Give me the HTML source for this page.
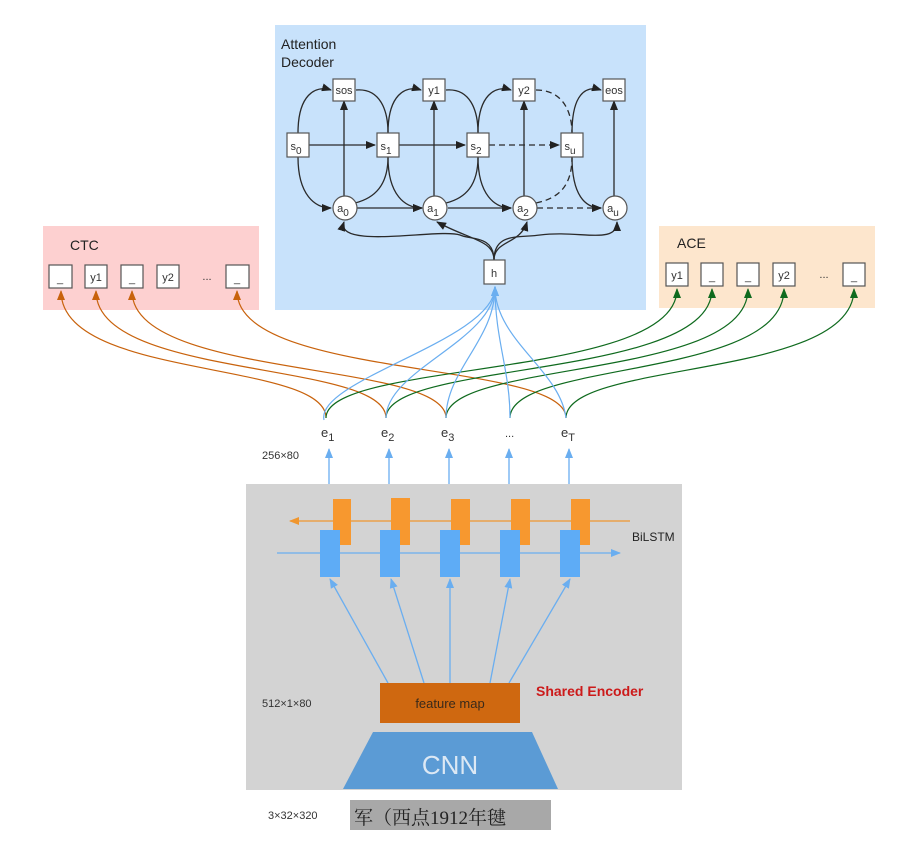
<!DOCTYPE html>
<html><head><meta charset="utf-8"><style>
body{margin:0;background:#fff;}
svg{display:block;font-family:"Liberation Sans",Arial,sans-serif;}
</style></head><body>
<svg width="899" height="860" viewBox="0 0 899 860" xmlns="http://www.w3.org/2000/svg">
<defs>
<marker id="ak" markerWidth="10" markerHeight="8" refX="9" refY="4" orient="auto" markerUnits="userSpaceOnUse"><path d="M0,0 L10,4 L0,8 z" fill="#222"/></marker>
<marker id="ao" markerWidth="10" markerHeight="10" refX="9" refY="5" orient="auto" markerUnits="userSpaceOnUse"><path d="M0,1 L10,5 L0,9 z" fill="#c8620c"/></marker>
<marker id="ag" markerWidth="10" markerHeight="10" refX="9" refY="5" orient="auto" markerUnits="userSpaceOnUse"><path d="M0,1 L10,5 L0,9 z" fill="#0f6a1e"/></marker>
<marker id="ab" markerWidth="10" markerHeight="10" refX="9" refY="5" orient="auto" markerUnits="userSpaceOnUse"><path d="M0,1 L10,5 L0,9 z" fill="#6aaef0"/></marker>
<marker id="ar" markerWidth="10" markerHeight="10" refX="9" refY="5" orient="auto" markerUnits="userSpaceOnUse"><path d="M0,1 L10,5 L0,9 z" fill="#f0962e"/></marker>
</defs>

<!-- panels -->
<rect x="275" y="25" width="371" height="285" fill="#c8e2fb"/>
<rect x="43" y="226" width="216" height="84" fill="#fdd0d0"/>
<rect x="659" y="226" width="216" height="82" fill="#fde6cd"/>
<rect x="246" y="484" width="436" height="306" fill="#d3d3d3"/>

<text x="281" y="49" font-size="14" fill="#222">Attention</text>
<text x="281" y="67" font-size="14" fill="#222">Decoder</text>
<text x="70" y="250" font-size="14" fill="#222">CTC</text>
<text x="677" y="248" font-size="14" fill="#222">ACE</text>

<!-- decoder connectors -->
<g stroke="#2a2a2a" stroke-width="1.3" fill="none">
<path d="M298,133 C298,95 315,85 331,90" marker-end="url(#ak)"/>
<path d="M388,133 C388,95 405,85 421,90" marker-end="url(#ak)"/>
<path d="M478,133 C478,95 495,85 511,90" marker-end="url(#ak)"/>
<path d="M572,133 C572,95 585,85 601,90" marker-end="url(#ak)"/>
<path d="M356,90 C380,88 388,110 388,133"/>
<path d="M446,90 C470,88 478,110 478,133"/>
<path d="M344,196 V101" marker-end="url(#ak)"/>
<path d="M434,196 V101" marker-end="url(#ak)"/>
<path d="M524,196 V101" marker-end="url(#ak)"/>
<path d="M614,196 V101" marker-end="url(#ak)"/>
<path d="M309,145 H375" marker-end="url(#ak)"/>
<path d="M399,145 H465" marker-end="url(#ak)"/>
<path d="M298,157 C298,195 315,208 331,208" marker-end="url(#ak)"/>
<path d="M388,157 C388,195 405,208 422,208" marker-end="url(#ak)"/>
<path d="M478,157 C478,195 495,208 511,208" marker-end="url(#ak)"/>
<path d="M572,157 C572,195 585,208 601,208" marker-end="url(#ak)"/>
<path d="M355,203 C375,198 388,185 388,157"/>
<path d="M446,203 C466,198 478,185 478,157"/>
<path d="M357,208 H422" marker-end="url(#ak)"/>
<path d="M448,208 H511" marker-end="url(#ak)"/>
<path d="M494,260 C494,235 470,240 460,235 C440,228 335,250 344,222" marker-end="url(#ak)"/>
<path d="M494,260 C494,240 470,240 437,222" marker-end="url(#ak)"/>
<path d="M494,260 C494,240 520,245 527,222" marker-end="url(#ak)"/>
<path d="M494,260 C494,232 520,238 540,235 C580,230 617,245 617,222" marker-end="url(#ak)"/>
</g>
<g stroke="#2a2a2a" stroke-width="1.3" fill="none" stroke-dasharray="6,4">
<path d="M489,145 H559" marker-end="url(#ak)"/>
<path d="M537,208 H601" marker-end="url(#ak)"/>
<path d="M536,90 C565,90 572,115 572,133"/>
<path d="M536,203 C560,198 572,185 572,157"/>
</g>

<!-- decoder nodes -->
<g fill="#fff" stroke="#555" stroke-width="1.2">
<rect x="333" y="79" width="22" height="22"/><rect x="423" y="79" width="22" height="22"/>
<rect x="513" y="79" width="22" height="22"/><rect x="603" y="79" width="22" height="22"/>
<rect x="287" y="133" width="22" height="24"/><rect x="377" y="133" width="22" height="24"/>
<rect x="467" y="133" width="22" height="24"/><rect x="561" y="133" width="22" height="24"/>
<circle cx="345" cy="208" r="12"/><circle cx="435" cy="208" r="12"/>
<circle cx="525" cy="208" r="12"/><circle cx="615" cy="208" r="12"/>
<rect x="484" y="260" width="21" height="24"/>
</g>
<g font-size="11" fill="#333" text-anchor="middle">
<text x="344" y="94">sos</text><text x="434" y="94">y1</text><text x="524" y="94">y2</text><text x="614" y="94">eos</text>
<text x="296" y="150">s<tspan font-size="10" dy="4">0</tspan></text>
<text x="386" y="150">s<tspan font-size="10" dy="4">1</tspan></text>
<text x="476" y="150">s<tspan font-size="10" dy="4">2</tspan></text>
<text x="570" y="150">s<tspan font-size="10" dy="4">u</tspan></text>
<text x="343" y="212">a<tspan font-size="10" dy="4">0</tspan></text>
<text x="433" y="212">a<tspan font-size="10" dy="4">1</tspan></text>
<text x="523" y="212">a<tspan font-size="10" dy="4">2</tspan></text>
<text x="613" y="212">a<tspan font-size="10" dy="4">u</tspan></text>
<text x="494" y="277">h</text>
</g>

<!-- CTC / ACE boxes -->
<g fill="#fff" stroke="#555" stroke-width="1.2">
<rect x="49" y="265" width="23" height="23"/><rect x="85" y="265" width="22" height="23"/>
<rect x="121" y="265" width="22" height="23"/><rect x="157" y="265" width="22" height="23"/>
<rect x="226" y="265" width="23" height="23"/>
<rect x="666" y="263" width="22" height="23"/><rect x="701" y="263" width="22" height="23"/>
<rect x="737" y="263" width="22" height="23"/><rect x="773" y="263" width="22" height="23"/>
<rect x="843" y="263" width="22" height="23"/>
</g>
<g font-size="11" fill="#333" text-anchor="middle">
<text x="60" y="282">_</text><text x="96" y="281">y1</text><text x="132" y="282">_</text><text x="168" y="281">y2</text><text x="207" y="280">...</text><text x="237" y="282">_</text>
<text x="677" y="279">y1</text><text x="712" y="280">_</text><text x="748" y="280">_</text><text x="784" y="279">y2</text><text x="824" y="278">...</text><text x="854" y="280">_</text>
</g>

<!-- connectors to heads -->
<g fill="none" stroke-width="1.2">
<g stroke="#c8620c">
<path d="M326,418 C326,360 61,380 61,291" marker-end="url(#ao)"/>
<path d="M386,418 C386,360 96,380 96,291" marker-end="url(#ao)"/>
<path d="M446,418 C446,360 132,380 132,291" marker-end="url(#ao)"/>
<path d="M566,418 C566,360 237,380 237,291" marker-end="url(#ao)"/>
</g>
<g stroke="#0f6a1e">
<path d="M326,418 C326,360 677,380 677,289" marker-end="url(#ag)"/>
<path d="M386,418 C386,360 712,380 712,289" marker-end="url(#ag)"/>
<path d="M446,418 C446,360 748,380 748,289" marker-end="url(#ag)"/>
<path d="M510,418 C510,360 784,380 784,289" marker-end="url(#ag)"/>
<path d="M566,418 C566,360 854,380 854,289" marker-end="url(#ag)"/>
</g>
<g stroke="#6aaef0">
<path d="M324,420 C315,380 495,340 495,287" marker-end="url(#ab)"/>
<path d="M386,418 C386,370 495,340 495,287" marker-end="url(#ab)"/>
<path d="M446,418 C446,370 495,340 495,287" marker-end="url(#ab)"/>
<path d="M510,418 C510,370 495,340 495,287" marker-end="url(#ab)"/>
<path d="M566,418 C560,370 495,340 495,287" marker-end="url(#ab)"/>
</g>
</g>

<!-- e labels -->
<g font-size="13" fill="#333">
<text x="321" y="437">e<tspan font-size="11" dy="4">1</tspan></text>
<text x="381" y="437">e<tspan font-size="11" dy="4">2</tspan></text>
<text x="441" y="437">e<tspan font-size="11" dy="4">3</tspan></text>
<text x="505" y="437" font-size="11">...</text>
<text x="561" y="437">e<tspan font-size="11" dy="4">T</tspan></text>
</g>
<text x="262" y="459" font-size="11" fill="#333">256×80</text>
<g stroke="#6aaef0" stroke-width="1.3" fill="none">
<path d="M329,484 V449" marker-end="url(#ab)"/><path d="M389,484 V449" marker-end="url(#ab)"/>
<path d="M449,484 V449" marker-end="url(#ab)"/><path d="M509,484 V449" marker-end="url(#ab)"/>
<path d="M569,484 V449" marker-end="url(#ab)"/>
</g>

<!-- BiLSTM -->
<g stroke="#f0962e" stroke-width="1.3" fill="none">
<path d="M630,521 H290" marker-end="url(#ar)"/>
</g>
<g fill="#f7982f">
<rect x="333" y="499" width="18" height="46"/><rect x="391" y="498" width="19" height="47"/>
<rect x="451" y="499" width="19" height="46"/><rect x="511" y="499" width="19" height="46"/>
<rect x="571" y="499" width="19" height="46"/>
</g>
<g stroke="#6aaef0" stroke-width="1.3" fill="none">
<path d="M277,553 H620" marker-end="url(#ab)"/>
<path d="M388,683 L330,579" marker-end="url(#ab)"/>
<path d="M424,683 L391,579" marker-end="url(#ab)"/>
<path d="M450,683 V579" marker-end="url(#ab)"/>
<path d="M490,683 L510,579" marker-end="url(#ab)"/>
<path d="M509,683 L570,579" marker-end="url(#ab)"/>
</g>
<g fill="#5eacf6">
<rect x="320" y="530" width="20" height="47"/><rect x="380" y="530" width="20" height="47"/>
<rect x="440" y="530" width="20" height="47"/><rect x="500" y="530" width="20" height="47"/>
<rect x="560" y="530" width="20" height="47"/>
</g>
<text x="632" y="541" font-size="12" fill="#222">BiLSTM</text>

<rect x="380" y="683" width="140" height="40" fill="#cf6810"/>
<text x="450" y="708" font-size="13" fill="#3a2a1a" text-anchor="middle">feature map</text>
<text x="536" y="696" font-size="14" font-weight="bold" fill="#cc1a1a">Shared Encoder</text>
<text x="262" y="707" font-size="11" fill="#333">512×1×80</text>

<polygon points="373,732 532,732 558,789 343,789" fill="#5b9bd5"/>
<text x="450" y="774" font-size="26" fill="#dce8f4" text-anchor="middle">CNN</text>

<rect x="350" y="800" width="201" height="30" fill="#a8a8a8"/>
<text x="354" y="824" font-size="19" fill="#222" font-family="'Liberation Serif','Noto Serif CJK SC',serif">军（西点1912年毽</text>
<text x="268" y="819" font-size="11" fill="#333">3×32×320</text>
</svg>
</body></html>
